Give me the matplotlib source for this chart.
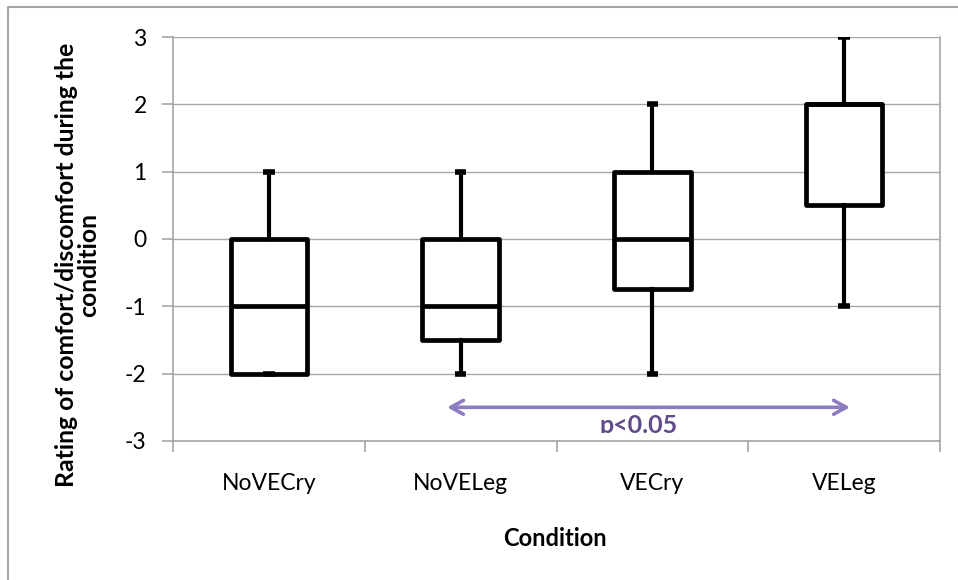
import matplotlib
matplotlib.use('Agg')
import matplotlib.pyplot as plt
from matplotlib.lines import Line2D
from matplotlib.patches import Rectangle

# ==========================================
# 数据
# ==========================================
conditions = ['NoVECry', 'NoVELeg', 'VECry', 'VELeg']
whislo = [-2, -2, -2, -1]
q1 = [-2, -1.5, -0.75, 0.5]
med = [-1, -1, 0, 2]
q3 = [0, 0, 1, 2]
whishi = [1, 1, 2, 3]
y_ticks = [-3, -2, -1, 0, 1, 2, 3]

# 显著性标注
sig_x = [1.93, 4.03]
sig_y = -2.5
sig_text = 'p<0.05'

plt.rcParams['font.family'] = ['Lato', 'DejaVu Sans']

GRID = '#a6a6a6'
ARROW = '#8e7cc3'
TEXT_PURPLE = '#5f4b8b'

fig = plt.figure(figsize=(9.58, 5.8), dpi=100)
ax = fig.add_axes([0.1806, 0.2397, 0.8006, 0.6965])

stats = []
for i, name in enumerate(conditions):
    stats.append(dict(label=name, whislo=whislo[i], q1=q1[i], med=med[i],
                      q3=q3[i], whishi=whishi[i], fliers=[]))

ax.bxp(stats, positions=[1, 2, 3, 4], widths=0.4, capwidths=0.06,
       patch_artist=True, showfliers=False,
       boxprops=dict(facecolor='white', edgecolor='black', linewidth=3.4, joinstyle='round'),
       medianprops=dict(color='black', linewidth=3.4),
       whiskerprops=dict(color='black', linewidth=3.0),
       capprops=dict(color='black', linewidth=4.0, solid_capstyle='butt'),
       zorder=3)

# 坐标轴
ax.set_xlim(0.5, 4.5)
ax.set_ylim(-3, 3)
ax.set_yticks(y_ticks)
ax.set_yticklabels([str(v) for v in y_ticks], fontsize=16.5)
ax.yaxis.grid(True, color=GRID, linewidth=1.0)
ax.set_axisbelow(True)

# 类别分界刻度 + 中心标签
ax.set_xticks([0.5, 1.5, 2.5, 3.5, 4.5])
ax.set_xticklabels([])
ax.set_xticks([1, 2, 3, 4], minor=True)
ax.set_xticklabels(conditions, minor=True, fontsize=16.5)
ax.tick_params(axis='x', which='minor', length=0, pad=23)
ax.tick_params(axis='x', which='major', length=8, width=1.2, color=GRID, direction='out')
ax.tick_params(axis='y', length=8, width=1.2, color=GRID, direction='out', pad=11)

for side in ['left', 'bottom', 'right']:
    ax.spines[side].set_color(GRID)
    ax.spines[side].set_linewidth(1.2)
ax.spines['top'].set_visible(False)

# 显著性箭头
ax.annotate('', xy=(sig_x[1], sig_y), xytext=(sig_x[0], sig_y),
            arrowprops=dict(arrowstyle='<->,head_length=0.9,head_width=0.5',
                            lw=2.6, color=ARROW, shrinkA=0, shrinkB=0),
            zorder=4)
t = ax.text(2.93, -2.60, sig_text, ha='center', va='top', fontsize=18,
            fontweight='bold', color=TEXT_PURPLE, zorder=4, clip_on=True)
clip = Rectangle((0.5, -2.88), 4, 6, transform=ax.transData)
t.set_clip_path(clip)

# 轴标题
fig.text(78 / 958, 1 - 265 / 580, 'Rating of comfort/discomfort during the\ncondition',
         rotation=90, ha='center', va='center', multialignment='center',
         fontsize=17.8, fontweight='bold', linespacing=0.95)
fig.text(555 / 958, 1 - 538 / 580, 'Condition', ha='center', va='center',
         fontsize=17, fontweight='bold')

# 外框
fig.add_artist(Line2D([8 / 958, 8 / 958, 1.0], [0, 1 - 7 / 580, 1 - 7 / 580],
                      color=GRID, linewidth=1.5))

plt.savefig('out.png', dpi=100)
